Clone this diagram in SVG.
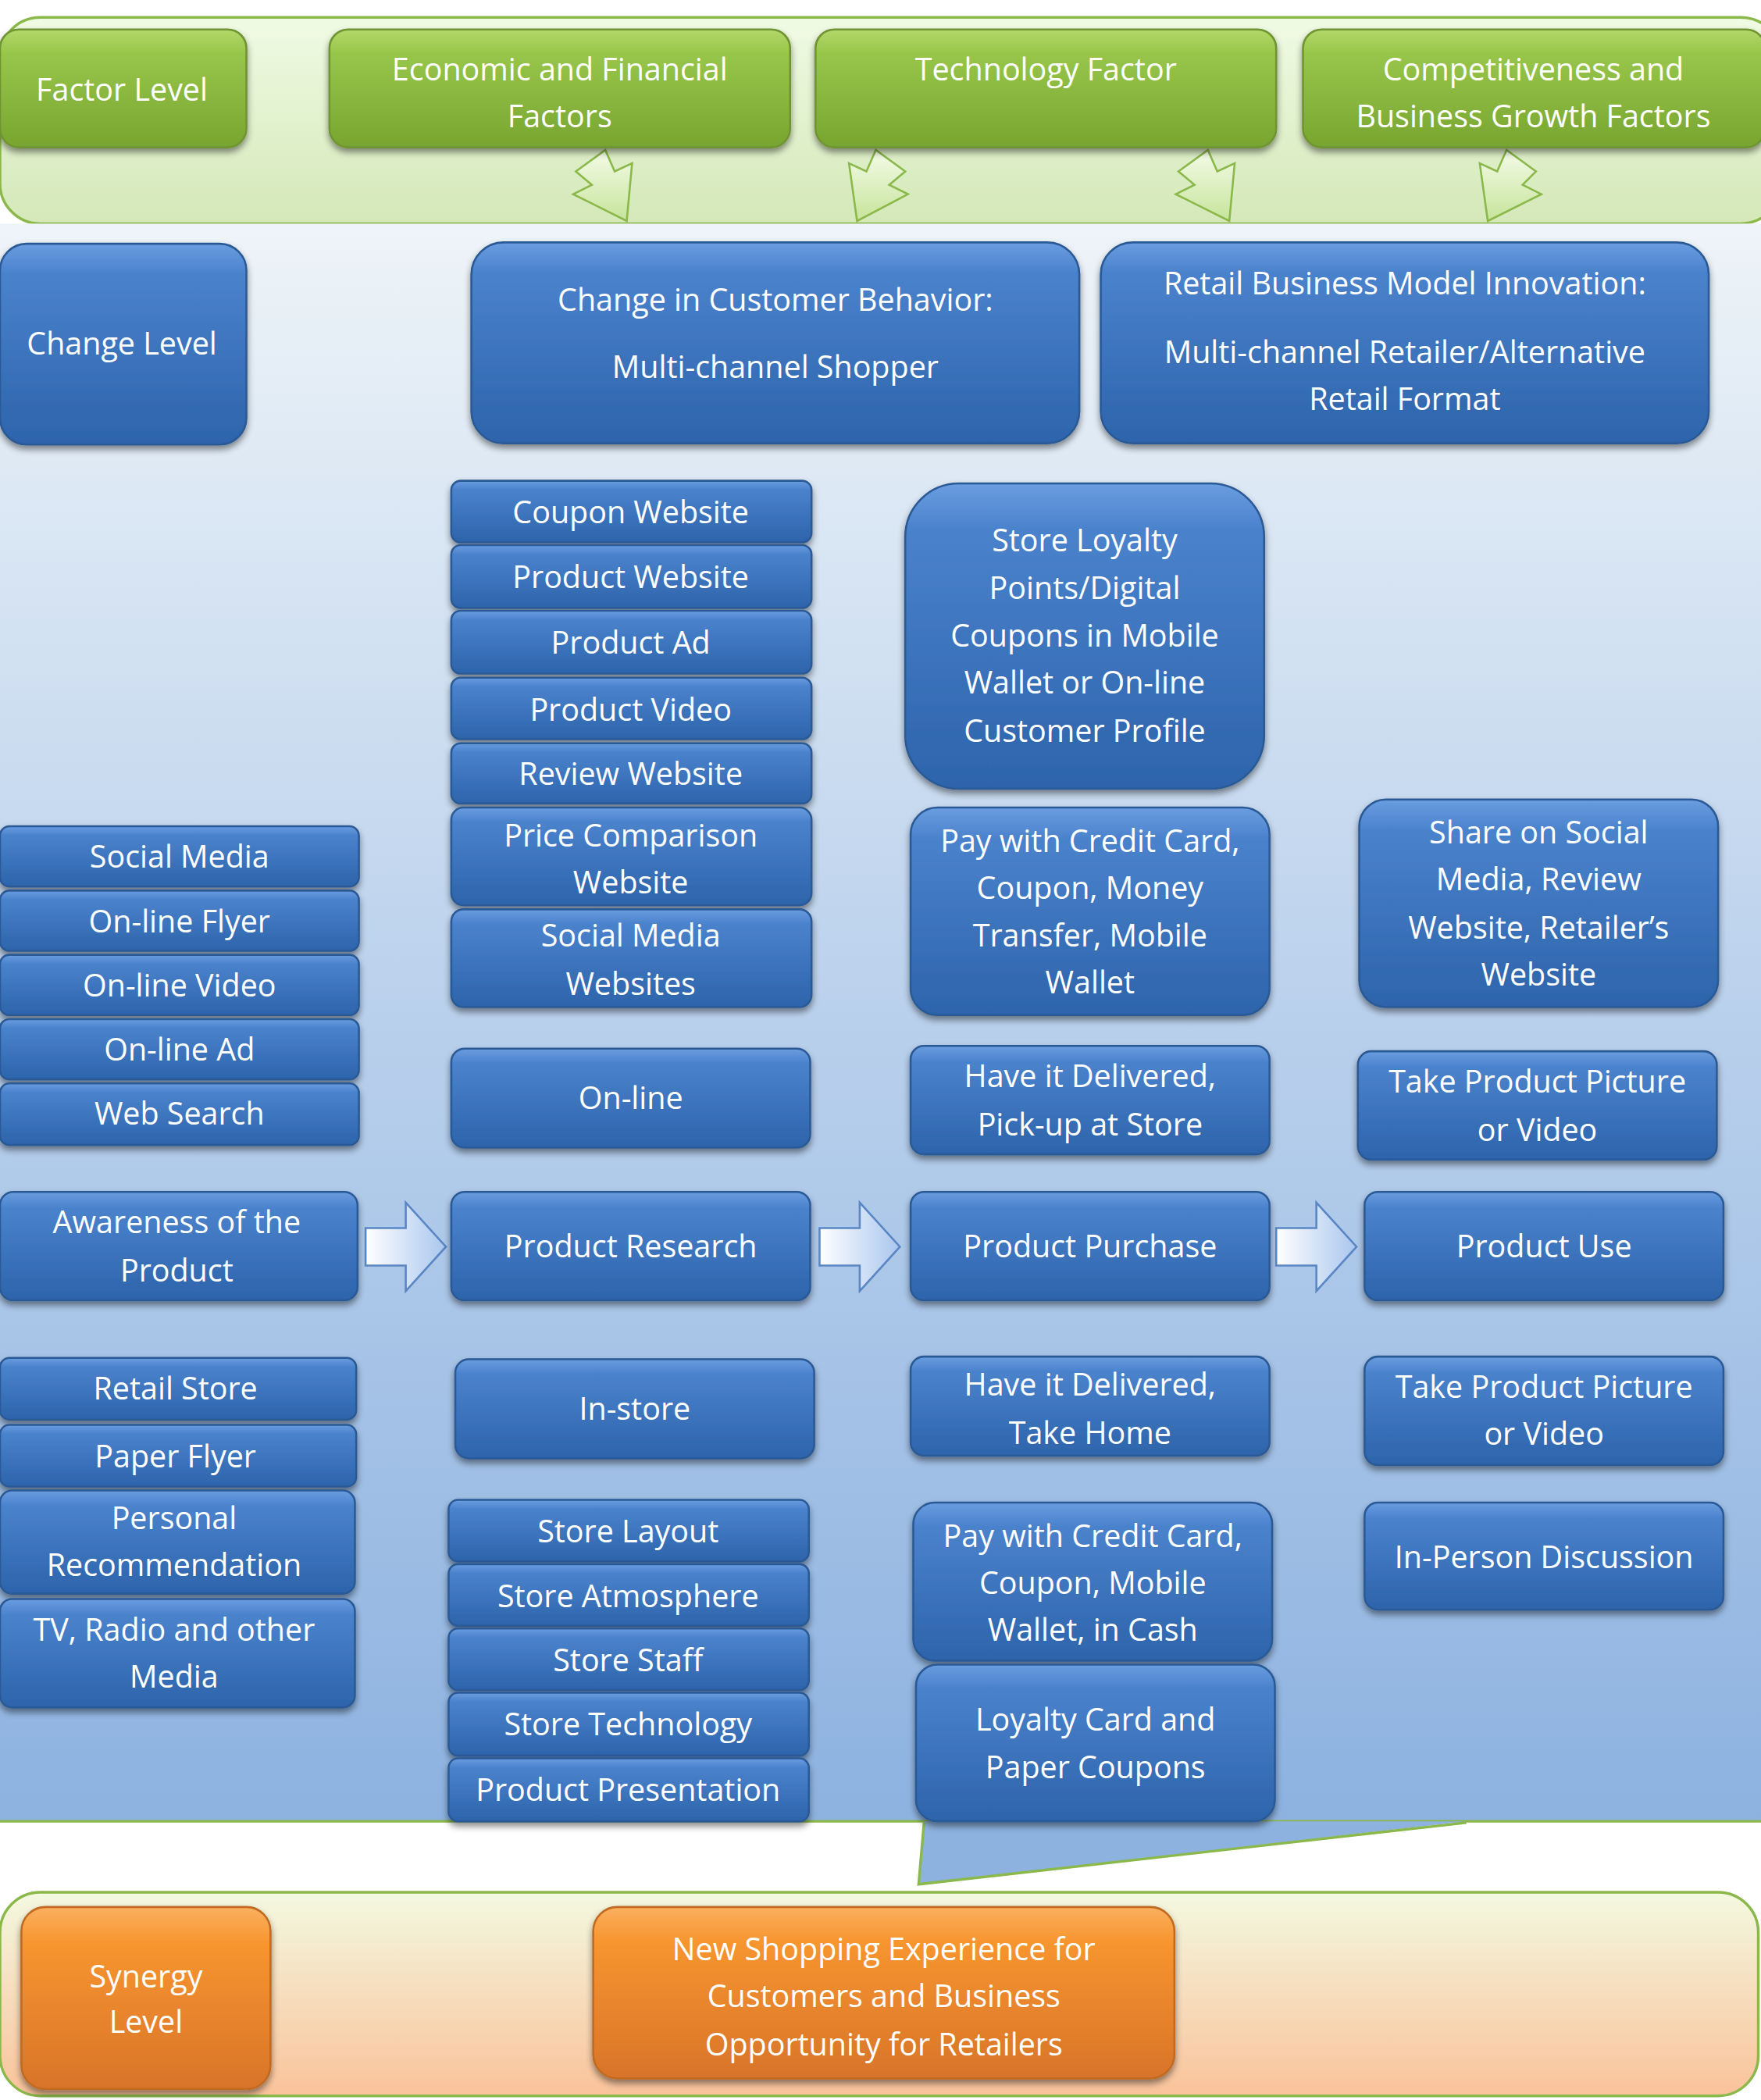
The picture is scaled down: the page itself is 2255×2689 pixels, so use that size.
<svg xmlns="http://www.w3.org/2000/svg" width="2255" height="2689" viewBox="0 0 2255 2689">
<defs>
<linearGradient id="gB" x1="0" y1="0" x2="0" y2="1"><stop offset="0" stop-color="#6a9de0"/><stop offset="0.15" stop-color="#4a82cc"/><stop offset="1" stop-color="#2d64ab"/></linearGradient>
<linearGradient id="gG" x1="0" y1="0" x2="0" y2="1"><stop offset="0" stop-color="#b2d86a"/><stop offset="0.2" stop-color="#98c64a"/><stop offset="1" stop-color="#78a530"/></linearGradient>
<linearGradient id="gO" x1="0" y1="0" x2="0" y2="1"><stop offset="0" stop-color="#fbb060"/><stop offset="0.2" stop-color="#f7952f"/><stop offset="1" stop-color="#d8742a"/></linearGradient>
<linearGradient id="pG" x1="0" y1="0" x2="0" y2="1"><stop offset="0" stop-color="#f0fbe4"/><stop offset="1" stop-color="#d4e8b8"/></linearGradient>
<linearGradient id="pB" x1="0" y1="0" x2="0" y2="1"><stop offset="0" stop-color="#eef4f8"/><stop offset="0.5" stop-color="#b9d0ec"/><stop offset="1" stop-color="#8db2e0"/></linearGradient>
<linearGradient id="pO" x1="0" y1="0" x2="0" y2="1"><stop offset="0" stop-color="#f3f9e0"/><stop offset="1" stop-color="#fac29a"/></linearGradient>
<linearGradient id="aB" x1="0" y1="0" x2="1" y2="0"><stop offset="0" stop-color="#ffffff"/><stop offset="1" stop-color="#a9c6ee"/></linearGradient>
<linearGradient id="aG" x1="0" y1="0" x2="0" y2="1"><stop offset="0" stop-color="#f4fbe8"/><stop offset="1" stop-color="#c6e49a"/></linearGradient>
<filter id="sh" x="-10%" y="-10%" width="120%" height="130%"><feDropShadow dx="0" dy="3" stdDeviation="2.5" flood-color="#000" flood-opacity="0.45"/></filter>
</defs>
<style>
.b{fill:url(#gB);stroke:#2c5a96;stroke-width:1.5;filter:url(#sh)}
.g{fill:url(#gG);stroke:#6f9432;stroke-width:1.5;filter:url(#sh)}
.o{fill:url(#gO);stroke:#c06a20;stroke-width:1.5;filter:url(#sh)}
text{font-family:"Open Sans","Liberation Sans",sans-serif;fill:#fff;font-size:23px;text-anchor:middle}
.ab{fill:url(#aB);stroke:#5a86c4;stroke-width:1.5}
.ag{fill:url(#aG);stroke:#8ab84a;stroke-width:1.5}
</style>
<rect width="2255" height="2689" fill="#fff"/>
<g transform="scale(1.7148)">
<g id="panels">
<rect x="0" y="13" width="1330" height="154" rx="30" fill="url(#pG)" stroke="#8ab84a" stroke-width="2"/>
<rect x="-10" y="167" width="1340" height="1193" fill="url(#pB)"/>
<line x1="0" y1="1360" x2="1315" y2="1360" stroke="#8ab84a" stroke-width="2"/>
<path d="M690 1360 L686 1407 L1095 1360 Z" fill="#8db2e0"/>
<path d="M690 1361 L686 1407 L1095 1361" fill="none" stroke="#8ab84a" stroke-width="2"/>
<rect x="0" y="1413" width="1313" height="152" rx="30" fill="url(#pO)" stroke="#8ab84a" stroke-width="2"/>
</g>
<g id="connectors">
<path class="ag" d="M430 128 L452 112 L459 128 L472 122 L468 165 L428 145 L442 138 Z"/>
<path class="ag" d="M676 128 L654 112 L647 128 L634 122 L640 165 L678 145 L664 138 Z"/>
<path class="ag" d="M880 128 L902 112 L909 128 L922 122 L918 165 L878 145 L892 138 Z"/>
<path class="ag" d="M1147 128 L1125 112 L1118 128 L1105 122 L1111 165 L1151 145 L1137 138 Z"/>
<path class="ab" d="M273 917 L303 917 L303 898 L333 931 L303 964 L303 945 L273 945 Z"/>
<path class="ab" d="M612 917 L642 917 L642 898 L672 931 L642 964 L642 945 L612 945 Z"/>
<path class="ab" d="M953 917 L983 917 L983 898 L1013 931 L983 964 L983 945 L953 945 Z"/>
</g>
<g id="n-factor"><rect class="g" x="0" y="22" width="184" height="88" rx="14"/><text x="91" y="75">Factor Level</text></g>
<g id="n-econ"><rect class="g" x="246" y="22" width="344" height="88" rx="14"/><text x="418" y="60">Economic and Financial</text><text x="418" y="95">Factors</text></g>
<g id="n-tech"><rect class="g" x="609" y="22" width="344" height="88" rx="14"/><text x="781" y="60">Technology Factor</text></g>
<g id="n-comp"><rect class="g" x="973" y="22" width="345" height="88" rx="14"/><text x="1145" y="60">Competitiveness and</text><text x="1145" y="95">Business Growth Factors</text></g>

<g id="n-change"><rect class="b" x="0" y="182" width="184" height="150" rx="20"/><text x="91" y="265">Change Level</text></g>
<g id="n-cust"><rect class="b" x="352" y="181" width="454" height="150" rx="24"/><text x="579" y="232">Change in Customer Behavior:</text><text x="579" y="282">Multi-channel Shopper</text></g>
<g id="n-retail"><rect class="b" x="822" y="181" width="454" height="150" rx="24"/><text x="1049" y="220">Retail Business Model Innovation:</text><text x="1049" y="271">Multi-channel Retailer/Alternative</text><text x="1049" y="306">Retail Format</text></g>

<g id="n-c2-1"><rect class="b" x="337" y="359" width="269" height="46" rx="7"/><text x="471" y="391">Coupon Website</text></g>
<g id="n-c2-2"><rect class="b" x="337" y="407" width="269" height="47" rx="7"/><text x="471" y="439">Product Website</text></g>
<g id="n-c2-3"><rect class="b" x="337" y="456" width="269" height="47" rx="7"/><text x="471" y="488">Product Ad</text></g>
<g id="n-c2-4"><rect class="b" x="337" y="506" width="269" height="46" rx="7"/><text x="471" y="538">Product Video</text></g>
<g id="n-c2-5"><rect class="b" x="337" y="555" width="269" height="45" rx="7"/><text x="471" y="586">Review Website</text></g>
<g id="n-c2-6"><rect class="b" x="337" y="603" width="269" height="73" rx="9"/><text x="471" y="632">Price Comparison</text><text x="471" y="667">Website</text></g>
<g id="n-c2-7"><rect class="b" x="337" y="679" width="269" height="73" rx="9"/><text x="471" y="707">Social Media</text><text x="471" y="743">Websites</text></g>
<g id="n-online"><rect class="b" x="337" y="783" width="268" height="74" rx="10"/><text x="471" y="828">On-line</text></g>
<g id="n-research"><rect class="b" x="337" y="890" width="268" height="81" rx="10"/><text x="471" y="939">Product Research</text></g>
<g id="n-instore"><rect class="b" x="340" y="1015" width="268" height="74" rx="10"/><text x="474" y="1060">In-store</text></g>
<g id="n-c2-8"><rect class="b" x="335" y="1120" width="269" height="46" rx="7"/><text x="469" y="1152">Store Layout</text></g>
<g id="n-c2-9"><rect class="b" x="335" y="1168" width="269" height="46" rx="7"/><text x="469" y="1200">Store Atmosphere</text></g>
<g id="n-c2-10"><rect class="b" x="335" y="1216" width="269" height="46" rx="7"/><text x="469" y="1248">Store Staff</text></g>
<g id="n-c2-11"><rect class="b" x="335" y="1264" width="269" height="47" rx="7"/><text x="469" y="1296">Store Technology</text></g>
<g id="n-c2-12"><rect class="b" x="335" y="1313" width="269" height="47" rx="7"/><text x="469" y="1345">Product Presentation</text></g>

<g id="n-c1-1"><rect class="b" x="0" y="617" width="268" height="45" rx="7"/><text x="134" y="648">Social Media</text></g>
<g id="n-c1-2"><rect class="b" x="0" y="665" width="268" height="45" rx="7"/><text x="134" y="696">On-line Flyer</text></g>
<g id="n-c1-3"><rect class="b" x="0" y="713" width="268" height="45" rx="7"/><text x="134" y="744">On-line Video</text></g>
<g id="n-c1-4"><rect class="b" x="0" y="761" width="268" height="45" rx="7"/><text x="134" y="792">On-line Ad</text></g>
<g id="n-c1-5"><rect class="b" x="0" y="809" width="268" height="46" rx="7"/><text x="134" y="840">Web Search</text></g>
<g id="n-aware"><rect class="b" x="0" y="890" width="267" height="81" rx="10"/><text x="132" y="921">Awareness of the</text><text x="132" y="957">Product</text></g>
<g id="n-c1-6"><rect class="b" x="0" y="1014" width="266" height="46" rx="7"/><text x="131" y="1045">Retail Store</text></g>
<g id="n-c1-7"><rect class="b" x="0" y="1064" width="266" height="46" rx="7"/><text x="131" y="1096">Paper Flyer</text></g>
<g id="n-c1-8"><rect class="b" x="0" y="1113" width="265" height="77" rx="9"/><text x="130" y="1142">Personal</text><text x="130" y="1177">Recommendation</text></g>
<g id="n-c1-9"><rect class="b" x="0" y="1194" width="265" height="81" rx="9"/><text x="130" y="1225">TV, Radio and other</text><text x="130" y="1260">Media</text></g>

<g id="n-loyal"><rect class="b" x="676" y="361" width="268" height="228" rx="40"/><text x="810" y="412">Store Loyalty</text><text x="810" y="447">Points/Digital</text><text x="810" y="483">Coupons in Mobile</text><text x="810" y="518">Wallet or On-line</text><text x="810" y="554">Customer Profile</text></g>
<g id="n-pay1"><rect class="b" x="680" y="603" width="268" height="155" rx="20"/><text x="814" y="636">Pay with Credit Card,</text><text x="814" y="671">Coupon, Money</text><text x="814" y="707">Transfer, Mobile</text><text x="814" y="742">Wallet</text></g>
<g id="n-deliv1"><rect class="b" x="680" y="781" width="268" height="81" rx="10"/><text x="814" y="812">Have it Delivered,</text><text x="814" y="848">Pick-up at Store</text></g>
<g id="n-purchase"><rect class="b" x="680" y="890" width="268" height="81" rx="10"/><text x="814" y="939">Product Purchase</text></g>
<g id="n-deliv2"><rect class="b" x="680" y="1013" width="268" height="74" rx="10"/><text x="814" y="1042">Have it Delivered,</text><text x="814" y="1078">Take Home</text></g>
<g id="n-pay2"><rect class="b" x="682" y="1122" width="268" height="118" rx="16"/><text x="816" y="1155">Pay with Credit Card,</text><text x="816" y="1190">Coupon, Mobile</text><text x="816" y="1225">Wallet, in Cash</text></g>
<g id="n-loyal2"><rect class="b" x="684" y="1243" width="268" height="117" rx="16"/><text x="818" y="1292">Loyalty Card and</text><text x="818" y="1328">Paper Coupons</text></g>

<g id="n-share"><rect class="b" x="1015" y="597" width="268" height="155" rx="20"/><text x="1149" y="630">Share on Social</text><text x="1149" y="665">Media, Review</text><text x="1149" y="701">Website, Retailer’s</text><text x="1149" y="736">Website</text></g>
<g id="n-pic1"><rect class="b" x="1014" y="785" width="268" height="81" rx="10"/><text x="1148" y="816">Take Product Picture</text><text x="1148" y="852">or Video</text></g>
<g id="n-use"><rect class="b" x="1019" y="890" width="268" height="81" rx="10"/><text x="1153" y="939">Product Use</text></g>
<g id="n-pic2"><rect class="b" x="1019" y="1013" width="268" height="81" rx="10"/><text x="1153" y="1044">Take Product Picture</text><text x="1153" y="1079">or Video</text></g>
<g id="n-discuss"><rect class="b" x="1019" y="1122" width="268" height="80" rx="10"/><text x="1153" y="1171">In-Person Discussion</text></g>

<g id="n-synergy"><rect class="o" x="16" y="1424" width="186" height="136" rx="18"/><text x="109" y="1484">Synergy</text><text x="109" y="1518">Level</text></g>
<g id="n-new"><rect class="o" x="443" y="1424" width="434" height="128" rx="18"/><text x="660" y="1464">New Shopping Experience for</text><text x="660" y="1499">Customers and Business</text><text x="660" y="1535">Opportunity for Retailers</text></g>
</g>
</svg>
